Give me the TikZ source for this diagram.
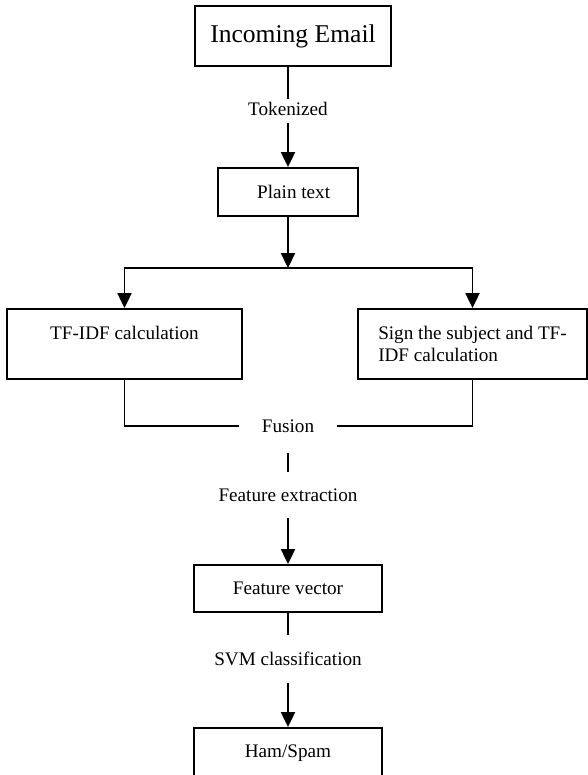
\documentclass[tikz,border=0pt]{standalone}
\usepackage{fontspec}
\setmainfont{Liberation Serif}
\usepackage{tikz}
\usetikzlibrary{arrows.meta,positioning,calc}

\begin{document}
\begin{tikzpicture}[
    line width=1.2pt,
    boxnode/.style={rectangle, draw, line width=1.2pt, inner sep=0pt, font=\fontsize{12}{13.8}\selectfont},
    lbl/.style={inner xsep=0pt, inner ysep=10pt, font=\fontsize{12}{13.8}\selectfont},
    arr/.style={-{Triangle[length=0.33cm,width=0.31cm]}}
]
\useasboundingbox (0,0) rectangle (12.936,-17.05);

\node[boxnode, minimum width=4.31cm, minimum height=1.32cm, font=\fontsize{16}{19}\selectfont] (email) at (6.446,-0.792) {Incoming Email};
\node[lbl, inner ysep=1pt, text depth=3.4pt, anchor=base] (tok) at (6.336,-2.53) {Tokenized};
\node[boxnode, minimum width=3.08cm, minimum height=1.056cm] (plain) at (6.336,-4.224) {\hspace{0.25cm}Plain text};
\coordinate (split) at (6.336,-5.896);

\node[boxnode, minimum width=5.17cm, minimum height=1.54cm, align=center] (lbox) at (2.739,-7.568) {TF-IDF calculation\\\mbox{}};
\node[boxnode, minimum width=5.04cm, minimum height=1.54cm, align=left] (rbox) at (10.395,-7.568) {Sign the subject and TF-\\IDF calculation};

\node[lbl, inner xsep=14pt, inner ysep=12pt] (fusion) at (6.336,-9.372) {Fusion};
\node[lbl] (extract) at (6.336,-10.89) {Feature extraction};
\node[boxnode, minimum width=4.136cm, minimum height=1.034cm] (fvec) at (6.336,-12.947) {Feature vector};
\node[lbl] (svm) at (6.336,-14.498) {SVM classification};
\node[boxnode, minimum width=4.136cm, minimum height=1.1cm] (ham) at (6.336,-16.566) {Ham/Spam};

\draw (plain.north |- email.south) -- (tok.north);
\draw[arr] (tok.south) -- (plain.north);
\draw[arr] (plain.south) -- (split);
\draw[arr] (split) -| (lbox.north);
\draw[arr] (split) -| (rbox.north);
\draw (lbox.south) |- (fusion.west);
\draw (rbox.south) |- (fusion.east);
\draw (fusion.south) -- (extract.north);
\draw[arr] (extract.south) -- (fvec.north);
\draw (fvec.south) -- (svm.north);
\draw[arr] (svm.south) -- (ham.north);
\end{tikzpicture}
\end{document}
